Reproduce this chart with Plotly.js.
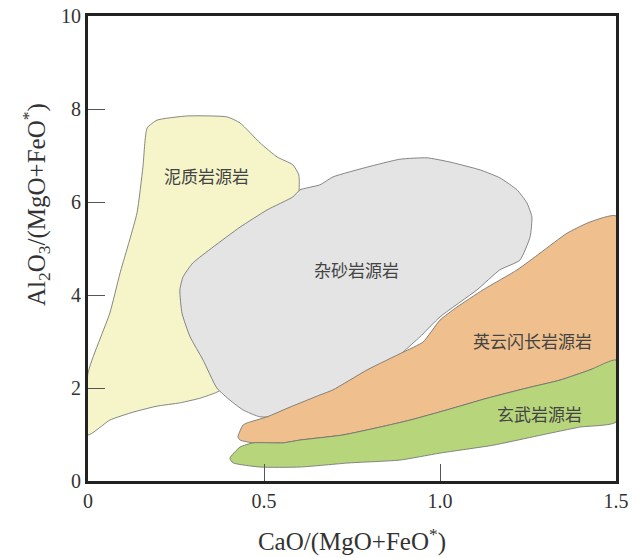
<!DOCTYPE html>
<html>
<head>
<meta charset="utf-8">
<script src="https://cdn.plot.ly/plotly-3.0.1.min.js"></script>
<style>html,body{margin:0;padding:0;background:#fff;}#chart{width:633px;height:558px;}</style>
</head>
<body>
<div id="chart"></div>
<script>
// Field boundaries (x = CaO/(MgO+FeO*), y = Al2O3/(MgO+FeO*))
const pelitX = [0, 0, 0.062, 0.091, 0.139, 0.156, 0.168, 0.196, 0.281, 0.395, 0.432, 0.489, 0.537, 0.582, 0.599, 0.599, 0.55, 0.45, 0.366, 0.318, 0.261, 0.196, 0.128, 0.062, 0];
const pelitY = [0.99, 2.32, 3.61, 4.47, 5.76, 6.75, 7.59, 7.76, 7.85, 7.83, 7.70, 7.27, 6.97, 6.80, 6.58, 6.15, 4.0, 2.3, 1.91, 1.78, 1.68, 1.61, 1.48, 1.31, 0.99];

const greyX = [0.659, 0.602, 0.582, 0.509, 0.432, 0.355, 0.298, 0.270, 0.261, 0.267, 0.290, 0.327, 0.366, 0.403, 0.440, 0.489, 0.60, 0.85, 0.895, 0.943, 1.0, 1.105, 1.170, 1.227, 1.256, 1.261, 1.247, 1.219, 1.170, 1.114, 1.028, 0.963, 0.886, 0.793, 0.696, 0.659];
const greyY = [6.37, 6.26, 6.11, 5.83, 5.46, 5.03, 4.69, 4.39, 4.11, 3.61, 3.10, 2.60, 2.00, 1.74, 1.53, 1.38, 1.45, 2.4, 2.77, 3.10, 3.53, 4.11, 4.54, 4.75, 5.25, 5.68, 5.98, 6.26, 6.52, 6.69, 6.86, 6.95, 6.92, 6.75, 6.54, 6.37];

const tonaliteX = [0.426, 0.440, 0.452, 0.509, 0.574, 0.659, 0.696, 0.793, 0.895, 0.952, 1.0, 1.048, 1.122, 1.219, 1.284, 1.361, 1.426, 1.5, 1.5, 1.426, 1.341, 1.247, 1.134, 1.020, 0.915, 0.830, 0.724, 0.602, 0.554, 0.469, 0.432, 0.426];
const tonaliteY = [0.95, 1.20, 1.25, 1.38, 1.59, 1.85, 1.96, 2.39, 2.77, 2.99, 3.46, 3.74, 4.11, 4.54, 4.90, 5.33, 5.57, 5.70, 2.60, 2.39, 2.17, 2.00, 1.78, 1.53, 1.31, 1.16, 0.99, 0.88, 0.82, 0.82, 0.88, 0.95];

const basaltX = [0.403, 0.432, 0.469, 0.554, 0.602, 0.724, 0.830, 0.915, 1.020, 1.134, 1.247, 1.341, 1.426, 1.5, 1.5, 1.398, 1.264, 1.151, 1.0, 0.886, 0.744, 0.602, 0.489, 0.412, 0.403];
const basaltY = [0.49, 0.73, 0.82, 0.82, 0.88, 0.99, 1.16, 1.31, 1.53, 1.78, 2.00, 2.17, 2.39, 2.60, 1.27, 1.16, 0.95, 0.77, 0.60, 0.45, 0.39, 0.30, 0.30, 0.39, 0.49];

const fieldNames = ['泥质岩源岩', '杂砂岩源岩', '英云闪长岩源岩', '玄武岩源岩'];
const labelX = [0.338, 0.764, 1.264, 1.284];
const labelY = [6.56, 4.54, 3.03, 1.46];

const xTickVals = [0, 0.5, 1.0, 1.5];
const xTickText = ['0', '0.5', '1.0', '1.5'];
const yTickVals = [0, 2, 4, 6, 8, 10];
const yTickText = ['0', '2', '4', '6', '8', '10'];

const fills = ['#f5f5c9', '#e4e4e4', '#efc08d', '#b7d67c'];
const xs = [pelitX, greyX, tonaliteX, basaltX];
const ys = [pelitY, greyY, tonaliteY, basaltY];

const traces = xs.map((x, i) => ({
  type: 'scatter', mode: 'lines', x: x, y: ys[i],
  fill: 'toself', fillcolor: fills[i],
  line: {color: '#6a6a6a', width: 0.8, shape: 'spline', smoothing: 0.5},
  hoverinfo: 'skip', showlegend: false, name: fieldNames[i]
}));

const annotations = fieldNames.map((t, i) => ({
  x: labelX[i], y: labelY[i], xref: 'x', yref: 'y', text: t, showarrow: false,
  font: {family: 'Noto Sans CJK SC', size: 17, color: '#444'}
}));
annotations.push({
  xref: 'paper', yref: 'paper', x: -0.135, y: 0.595, textangle: -90, showarrow: false,
  text: 'Al<sub>2</sub>O<sub>3</sub>/(MgO+FeO<sup>*</sup>)',
  font: {family: 'Liberation Serif', size: 25, color: '#333'}
});

const layout = {
  width: 633, height: 558,
  margin: {l: 88, r: 17, t: 16, b: 77},
  paper_bgcolor: '#fff', plot_bgcolor: '#fff',
  showlegend: false,
  xaxis: {
    range: [0, 1.5], tickvals: xTickVals, ticktext: xTickText,
    ticks: 'inside', ticklen: 17, tickcolor: '#555', tickwidth: 1,
    showgrid: false, zeroline: false, layer: 'above traces',
    showline: true, mirror: true, linecolor: '#222', linewidth: 3,
    tickfont: {family: 'Liberation Serif', size: 20, color: '#333'},
    title: {text: 'CaO/(MgO+FeO<sup>*</sup>)', font: {family: 'Liberation Serif', size: 25, color: '#333'}, standoff: 22}
  },
  yaxis: {
    range: [0, 10], tickvals: yTickVals, ticktext: yTickText,
    ticks: 'inside', ticklen: 17, tickcolor: '#555', tickwidth: 1,
    showgrid: false, zeroline: false, layer: 'above traces',
    showline: true, mirror: true, linecolor: '#222', linewidth: 3,
    tickfont: {family: 'Liberation Serif', size: 20, color: '#333'}
  },
  annotations: annotations
};

Plotly.newPlot('chart', traces, layout, {displayModeBar: false, staticPlot: true});
</script>
</body>
</html>
